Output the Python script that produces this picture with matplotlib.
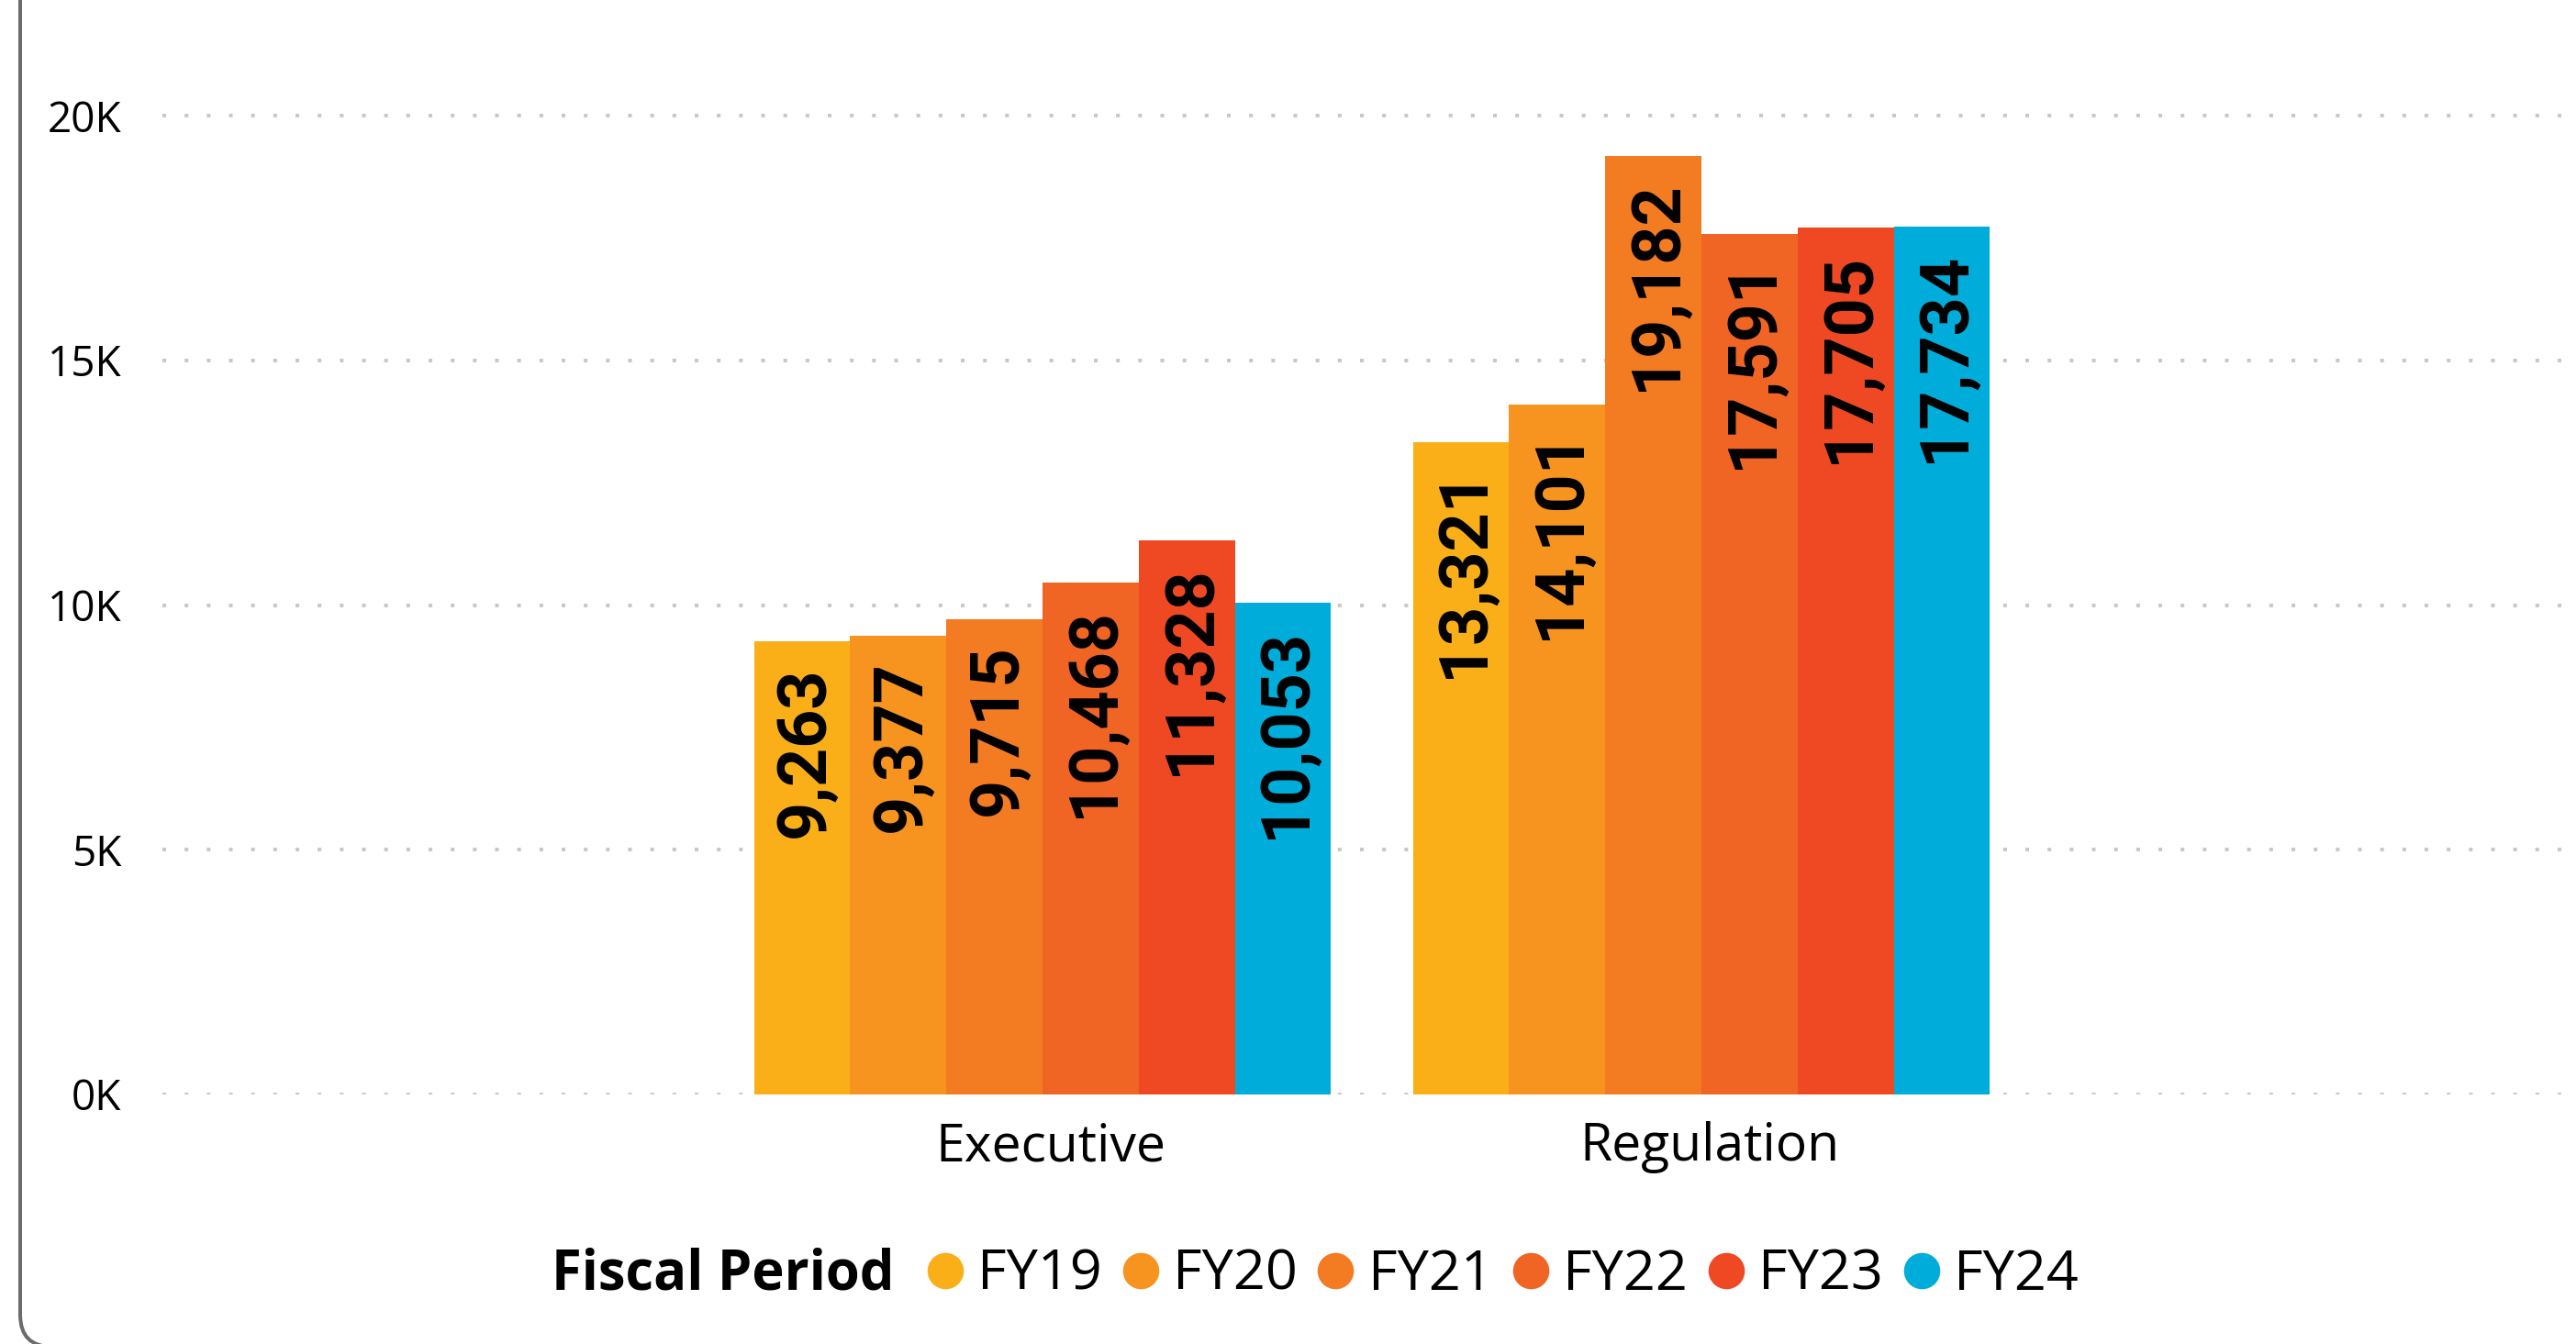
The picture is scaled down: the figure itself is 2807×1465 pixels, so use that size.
import numpy as np
import matplotlib
matplotlib.use("Agg")
import matplotlib.pyplot as plt
from matplotlib.lines import Line2D
from matplotlib.patches import FancyBboxPatch
from matplotlib.transforms import ScaledTranslation

plt.rcParams['font.family'] = ['Open Sans', 'DejaVu Sans']

categories = ['Executive', 'Regulation']
periods = ['FY19', 'FY20', 'FY21', 'FY22', 'FY23', 'FY24']
colors = ['#FAAF19', '#F6941F', '#F37B22', '#F06424', '#EF4923', '#00ADDA']
values = {
    'FY19': [9263, 13321],
    'FY20': [9377, 14101],
    'FY21': [9715, 19182],
    'FY22': [10468, 17591],
    'FY23': [11328, 17705],
    'FY24': [10053, 17734],
}
yticks = [0, 5000, 10000, 15000, 20000]
ytick_labels = ['0K', '5K', '10K', '15K', '20K']

W, H = 2807, 1465
fig = plt.figure(figsize=(W / 100, H / 100), dpi=100)
ax = fig.add_axes([177 / W, 272 / H, 2630 / W, 1193 / H])

x = np.arange(len(categories))
w = 0.146
for i, (fy, c) in enumerate(zip(periods, colors)):
    pos = x + (i - 2.5) * w
    ax.bar(pos, values[fy], w, color=c, zorder=2, label=fy)
    for xp, v in zip(pos, values[fy]):
        ax.annotate(f"{v:,}", xy=(xp, v), xytext=(3, -20), textcoords='offset points',
                    rotation=90, ha='center', va='top', fontsize=53,
                    fontweight='bold', family=['Roboto', 'DejaVu Sans'], color='black', zorder=3)

ax.set_xlim(-959 / 718, -959 / 718 + 2630 / 718)
ax.set_ylim(0, 1193 / (1067 / 20000))
ax.set_yticks(yticks, ytick_labels)
ax.set_xticks(x, categories)
ax.tick_params(axis='y', length=0, pad=32, labelsize=33, labelcolor='black')
ax.tick_params(axis='x', length=0, pad=21, labelsize=41, labelcolor='black')
for lab in ax.get_xticklabels():
    lab.set_transform(lab.get_transform() + ScaledTranslation(0.09, 0, fig.dpi_scale_trans))
ax.yaxis.grid(True, color='#c8c8c8', linewidth=2.9, linestyle=(0, (1, 5)))
ax.set_axisbelow(True)
for s in ax.spines.values():
    s.set_visible(False)

# legend
handles = [Line2D([], [], marker='o', linestyle='none', markersize=28.5,
                  markerfacecolor=c, markeredgecolor='none') for c in colors]
fig.legend(handles, periods, loc='center left', bbox_to_anchor=(1010 / W, 75 / H),
           ncol=6, frameon=False, fontsize=44, handlelength=0.65, handletextpad=0.25,
           columnspacing=0.36, borderpad=0, borderaxespad=0)
fig.text(601 / W, 75 / H, 'Fiscal Period', fontsize=43, fontweight='bold',
         ha='left', va='center')

# card border (left edge and rounded bottom-left corner)
fig.add_artist(FancyBboxPatch((0.22, -0.03), 40, 20, boxstyle='round,pad=0,rounding_size=0.35',
                              transform=fig.dpi_scale_trans, fc='none', ec='#6b6b6b', lw=2.9))

fig.savefig('out.png', dpi=100)
